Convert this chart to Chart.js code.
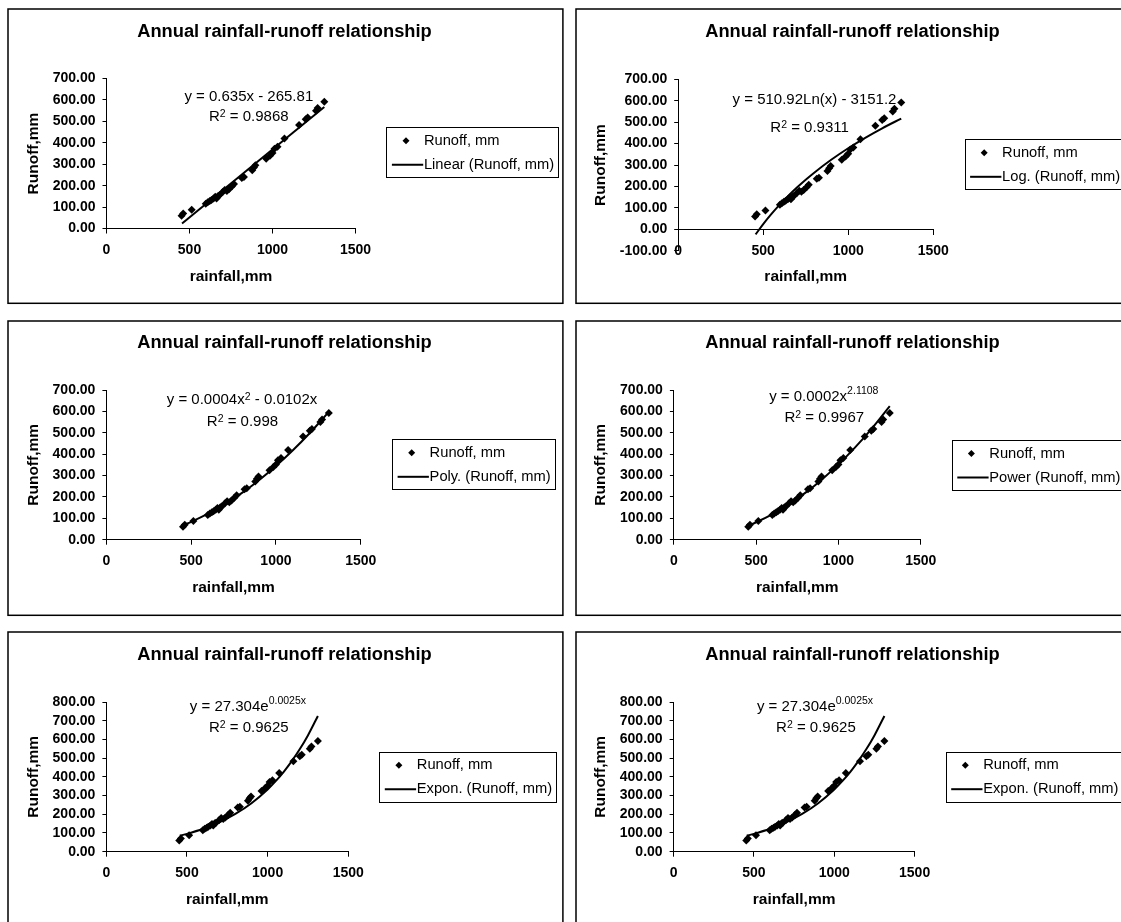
<!DOCTYPE html>
<html>
<head>
<meta charset="utf-8">
<script src="https://cdn.jsdelivr.net/npm/chart.js@4.4.1/dist/chart.umd.min.js"></script>
<style>
html,body{margin:0;padding:0;background:#fff;overflow:hidden;width:1121px;height:922px;}
canvas{position:absolute;}
</style>
</head>
<body>
<canvas id="c1"></canvas>
<canvas id="c2"></canvas>
<canvas id="c3"></canvas>
<canvas id="c4"></canvas>
<canvas id="c5"></canvas>
<canvas id="c6"></canvas>
<script>
// ---------- texts ----------
const chartTitle = 'Annual rainfall-runoff relationship';
const xAxisTitle = 'rainfall,mm';
const yAxisTitle = 'Runoff,mm';
const seriesName = 'Runoff, mm';

const rainfall = [452, 462, 513, 598, 610, 622, 632, 645, 655, 663, 672, 680, 700, 712, 725, 738, 755, 768, 815, 828, 878, 888, 897, 962, 985, 1000, 1012, 1030, 1072, 1160, 1200, 1212, 1262, 1272, 1312];
const runoff   = [60, 70, 88, 115, 122, 128, 133, 140, 148, 140, 152, 155, 170, 180, 175, 183, 196, 208, 236, 240, 272, 285, 295, 325, 340, 352, 372, 382, 420, 483, 510, 518, 550, 562, 592];

// ---------- trend lines ----------
const linearTrendX = [455, 1312];
const linearTrendY = [23.1, 567.3];
const logTrendX = [455, 500, 550, 600, 650, 700, 750, 800, 900, 1000, 1100, 1200, 1312];
const logTrendY = [-24.2, 24.0, 72.6, 117.1, 158.0, 195.9, 231.1, 264.1, 324.3, 378.1, 426.8, 471.3, 516.9];
const polyTrendX = [455, 500, 600, 700, 800, 900, 1000, 1100, 1200, 1312];
const polyTrendY = [68.9, 83.7, 121.7, 166.8, 219.0, 278.4, 344.8, 418.3, 499.0, 597.7];
const powerTrendX = [455, 500, 600, 700, 800, 900, 1000, 1100, 1200, 1312];
const powerTrendY = [66.8, 81.6, 119.8, 165.9, 219.9, 282.0, 352.2, 430.7, 517.4, 625.0];
const exponTrendX = [455, 500, 600, 700, 800, 900, 1000, 1050, 1100, 1150, 1200, 1250, 1312];
const exponTrendY = [85.2, 95.3, 122.4, 157.1, 201.7, 259.1, 332.6, 376.9, 427.1, 484.0, 548.4, 621.4, 725.6];

// ---------- ticks ----------
const xTickValues = [0, 500, 1000, 1500];
const xTickLabels = ['0', '500', '1000', '1500'];
const yTicks700 = [0, 100, 200, 300, 400, 500, 600, 700];
const yTicks700Labels = ['0.00', '100.00', '200.00', '300.00', '400.00', '500.00', '600.00', '700.00'];
const yTicksNeg = [-100, 0, 100, 200, 300, 400, 500, 600, 700];
const yTicksNegLabels = ['-100.00', '0.00', '100.00', '200.00', '300.00', '400.00', '500.00', '600.00', '700.00'];
const yTicks800 = [0, 100, 200, 300, 400, 500, 600, 700, 800];
const yTicks800Labels = ['0.00', '100.00', '200.00', '300.00', '400.00', '500.00', '600.00', '700.00', '800.00'];

// ---------- equations (text segments; 'sup' marks superscript) ----------
const eqLinear = [['y = 0.635x - 265.81']];
const r2Linear = [['R'], ['2', 'sup2'], [' = 0.9868']];
const eqLog = [['y = 510.92Ln(x) - 3151.2']];
const r2Log = [['R'], ['2', 'sup2'], [' = 0.9311']];
const eqPoly = [['y = 0.0004x'], ['2', 'sup2'], [' - 0.0102x']];
const r2Poly = [['R'], ['2', 'sup2'], [' = 0.998']];
const eqPower = [['y = 0.0002x'], ['2.1108', 'sup']];
const r2Power = [['R'], ['2', 'sup2'], [' = 0.9967']];
const eqExpon = [['y = 27.304e'], ['0.0025x', 'sup']];
const r2Expon = [['R'], ['2', 'sup2'], [' = 0.9625']];

const FONT = "'Liberation Sans', Arial, Helvetica, sans-serif";
Chart.defaults.font.family = FONT;
Chart.defaults.color = '#000';

const CW = 560, CH = 330;
const TITLE_SIZE = 15.5;

function drawRich(ctx, segs, cx, cy) {
  const base = '15px ' + FONT;
  const supF = '10.5px ' + FONT;
  let total = 0;
  segs.forEach(s => { ctx.font = s[1] ? supF : base; total += ctx.measureText(s[0]).width; });
  let x = cx - total / 2;
  ctx.textAlign = 'left';
  ctx.textBaseline = 'middle';
  segs.forEach(s => {
    ctx.font = s[1] ? supF : base;
    const dy = s[1] === 'sup' ? -6 : (s[1] === 'sup2' ? -3 : 0);
    ctx.fillText(s[0], x, cy + dy);
    x += ctx.measureText(s[0]).width;
  });
}

function drawLegend(ctx, lx, ly, trendName) {
  ctx.font = '14.7px ' + FONT;
  const textX = lx + 37.5;
  const w = Math.max(ctx.measureText(seriesName).width, ctx.measureText(trendName).width);
  const bw = textX - lx + w + 4;
  ctx.lineWidth = 1;
  ctx.strokeStyle = '#000';
  ctx.strokeRect(Math.round(lx) + 0.5, Math.round(ly) + 0.5, Math.round(bw), 50);
  const r1 = ly + 13.5, r2 = ly + 37.5;
  const mx = lx + 19.6, r = 3.5;
  ctx.fillStyle = '#000';
  ctx.beginPath();
  ctx.moveTo(mx - r, r1); ctx.lineTo(mx, r1 - r); ctx.lineTo(mx + r, r1); ctx.lineTo(mx, r1 + r);
  ctx.closePath(); ctx.fill();
  ctx.lineWidth = 2;
  ctx.beginPath(); ctx.moveTo(lx + 5.5, r2); ctx.lineTo(textX - 0.7, r2); ctx.stroke();
  ctx.textAlign = 'left'; ctx.textBaseline = 'middle';
  ctx.fillText(seriesName, textX, r1);
  ctx.fillText(trendName, textX, r2);
}

const decor = {
  id: 'decor',
  afterDraw(chart, args, o) {
    const ctx = chart.ctx;
    ctx.save();
    ctx.strokeStyle = '#000';
    ctx.lineWidth = 1.5;
    ctx.strokeRect(1, 1, 554.9, 294.3);
    ctx.fillStyle = '#000';
    ctx.font = 'bold 18.3px ' + FONT;
    ctx.textAlign = 'center';
    ctx.textBaseline = 'middle';
    ctx.fillText(chartTitle, 277.5, o.titleY);
    drawRich(ctx, o.eq1, o.eq1Pos[0], o.eq1Pos[1]);
    drawRich(ctx, o.eq2, o.eq2Pos[0], o.eq2Pos[1]);
    drawLegend(ctx, o.legend[0], o.legend[1], o.trendName);
    ctx.restore();
  }
};

const panels = [
  {id: 'c1', left: 7, top: 8, ca: [99.5, 70.5, 348.5, 220.5], yTitleX: 26.9, xTitleY: 268.7,
   yMin: 0, yMax: 700, yTicks: yTicks700, yLabels: yTicks700Labels, xAtZero: false,
   trendName: 'Linear (Runoff, mm)', tx: linearTrendX, ty: linearTrendY,
   eq1: eqLinear, eq1Pos: [241.8, 88.7], eq2: r2Linear, eq2Pos: [241.8, 109.3], legend: [379.4, 119.3], titleY: 23.7},
  {id: 'c2', left: 575, top: 8, ca: [103.2, 71.3, 358.2, 242.7], yTitleX: 25.4, xTitleY: 268.7,
   yMin: -100, yMax: 700, yTicks: yTicksNeg, yLabels: yTicksNegLabels, xAtZero: true,
   trendName: 'Log. (Runoff, mm)', tx: logTrendX, ty: logTrendY,
   eq1: eqLog, eq1Pos: [239.5, 92], eq2: r2Log, eq2Pos: [234.6, 120.3], legend: [389.6, 131.3], titleY: 23.7},
  {id: 'c3', left: 7, top: 320, ca: [99.4, 70, 353.7, 219.7], yTitleX: 26.9, xTitleY: 267.7,
   yMin: 0, yMax: 700, yTicks: yTicks700, yLabels: yTicks700Labels, xAtZero: false,
   trendName: 'Poly. (Runoff, mm)', tx: polyTrendX, ty: polyTrendY,
   eq1: eqPoly, eq1Pos: [235, 80], eq2: r2Poly, eq2Pos: [235.5, 102.3], legend: [385.1, 119.3], titleY: 23.3},
  {id: 'c4', left: 575, top: 320, ca: [98.9, 70, 345.7, 219.7], yTitleX: 25.4, xTitleY: 267.7,
   yMin: 0, yMax: 700, yTicks: yTicks700, yLabels: yTicks700Labels, xAtZero: false,
   trendName: 'Power (Runoff, mm)', tx: powerTrendX, ty: powerTrendY,
   eq1: eqPower, eq1Pos: [248.8, 76.7], eq2: r2Power, eq2Pos: [249.3, 97.7], legend: [376.8, 120], titleY: 23.3},
  {id: 'c5', left: 7, top: 631, ca: [99.4, 71, 341.2, 220.7], yTitleX: 26.9, xTitleY: 269,
   yMin: 0, yMax: 800, yTicks: yTicks800, yLabels: yTicks800Labels, xAtZero: false,
   trendName: 'Expon. (Runoff, mm)', tx: exponTrendX, ty: exponTrendY,
   eq1: eqExpon, eq1Pos: [240.9, 76.3], eq2: r2Expon, eq2Pos: [241.8, 96.7], legend: [372.3, 120.7], titleY: 24},
  {id: 'c6', left: 575, top: 631, ca: [98.6, 71, 339.6, 220.7], yTitleX: 25.4, xTitleY: 269,
   yMin: 0, yMax: 800, yTicks: yTicks800, yLabels: yTicks800Labels, xAtZero: false,
   trendName: 'Expon. (Runoff, mm)', tx: exponTrendX, ty: exponTrendY,
   eq1: eqExpon, eq1Pos: [240, 76.3], eq2: r2Expon, eq2Pos: [240.9, 97.3], legend: [370.7, 120.7], titleY: 24}
];

function makeChart(p) {
  const cv = document.getElementById(p.id);
  cv.width = CW; cv.height = CH;
  cv.style.width = CW + 'px'; cv.style.height = CH + 'px';
  cv.style.left = p.left + 'px'; cv.style.top = p.top + 'px';
  const [L, T, R, B] = p.ca;
  const lh = TITLE_SIZE * 1.2;
  const padLeft = p.yTitleX - lh / 2;
  const yW = L - padLeft;
  const axisY = p.xAtZero ? T + (p.yMax / (p.yMax - p.yMin)) * (B - T) : B;
  const xH = p.xTitleY + lh / 2 - axisY;
  // an axis placed at a value does not take layout room below the chart area
  const padBottom = p.xAtZero ? CH - B : CH - B - xH;

  const points = rainfall.map((x, i) => ({x: x, y: runoff[i]}));
  const trend = p.tx.map((x, i) => ({x: x, y: p.ty[i]}));

  new Chart(cv, {
    type: 'scatter',
    data: {
      datasets: [
        {label: p.trendName, data: trend, showLine: true, borderColor: '#000', backgroundColor: '#000',
         borderWidth: 2, pointRadius: 0, cubicInterpolationMode: 'monotone', fill: false, order: 0},
        {label: seriesName, data: points, pointStyle: 'rectRot', pointRadius: 4,
         backgroundColor: '#000', borderColor: '#000', borderWidth: 0, order: 1}
      ]
    },
    options: {
      responsive: false,
      animation: false,
      devicePixelRatio: 1,
      events: [],
      layout: {padding: {left: padLeft, top: T, right: CW - R, bottom: padBottom}},
      plugins: {
        legend: {display: false},
        title: {display: false},
        tooltip: {enabled: false},
        decor: p
      },
      scales: {
        x: {
          type: 'linear',
          position: p.xAtZero ? {y: 0} : 'bottom',
          min: 0, max: 1500,
          afterBuildTicks: (s) => { s.ticks = xTickValues.map(v => ({value: v})); },
          afterFit: (s) => { s.height = xH; },
          ticks: {
            callback: (v) => xTickLabels[xTickValues.indexOf(v)],
            font: {size: 14, weight: 'bold'}, color: '#000', padding: 8, maxRotation: 0, autoSkip: false
          },
          grid: {display: true, drawOnChartArea: false, drawTicks: true, tickLength: 5, color: '#000', lineWidth: 1},
          border: {display: true, color: '#000', width: 1},
          title: {display: true, text: xAxisTitle, font: {size: TITLE_SIZE, weight: 'bold'}, color: '#000', padding: 0}
        },
        y: {
          type: 'linear',
          position: 'left',
          min: p.yMin, max: p.yMax,
          afterBuildTicks: (s) => { s.ticks = p.yTicks.map(v => ({value: v})); },
          afterFit: (s) => { s.width = yW; },
          ticks: {
            callback: (v) => p.yLabels[p.yTicks.indexOf(v)],
            font: {size: 14, weight: 'bold'}, color: '#000', padding: 7, autoSkip: false
          },
          grid: {display: true, drawOnChartArea: false, drawTicks: true, tickLength: 4, color: '#000', lineWidth: 1},
          border: {display: true, color: '#000', width: 1},
          title: {display: true, text: yAxisTitle, font: {size: TITLE_SIZE, weight: 'bold'}, color: '#000', padding: 0}
        }
      }
    },
    plugins: [decor]
  });
}

panels.forEach(makeChart);
</script>
</body>
</html>
